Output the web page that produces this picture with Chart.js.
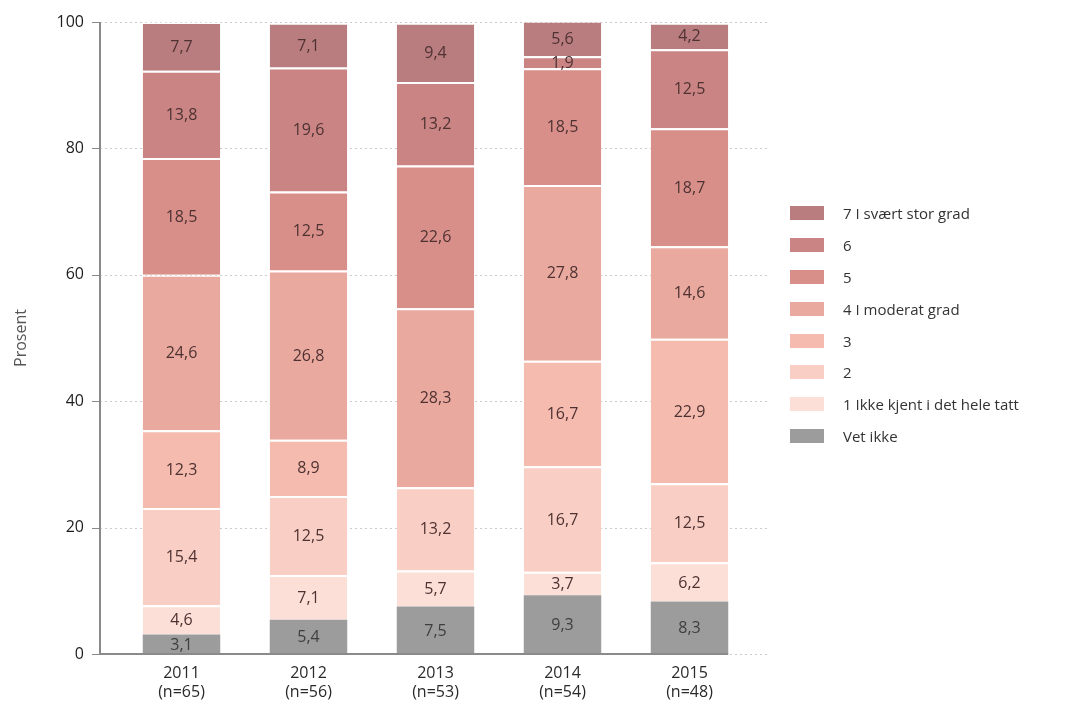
<!DOCTYPE html>
<html>
<head>
<meta charset="utf-8">
<script src="https://cdn.jsdelivr.net/npm/chart.js@4/dist/chart.umd.min.js"></script>
<style>
  body { margin: 0; background: #fff; }
  #wrap { position: relative; width: 1068px; height: 709px; }
  #legend { position: absolute; left: 790px; top: 197px; font-family: "Open Sans", sans-serif; font-size: 15px; color: #333; }
  #legend div { height: 31.9px; display: flex; align-items: center; }
  #legend span.box { display: inline-block; width: 34px; height: 14px; margin-right: 19px; }
</style>
</head>
<body>
<div id="wrap">
  <canvas id="chart" width="1068" height="709"></canvas>
  <div id="legend"></div>
</div>
<script>
// years with sample sizes
const years = ["2011", "2012", "2013", "2014", "2015"];
const sampleSizes = [65, 56, 53, 54, 48];

// answer categories, bottom to top of each stack
const categories = ["Vet ikke", "1 Ikke kjent i det hele tatt", "2", "3", "4 I moderat grad", "5", "6", "7 I svært stor grad"];
const colors = ["#9c9c9c", "#fcdfd7", "#f9cec4", "#f5bbaf", "#eaa99f", "#d98f89", "#c98483", "#b97d7f"];

// percent per category, one value per year
const vetIkke = [3.1, 5.4, 7.5, 9.3, 8.3];
const grad1 = [4.6, 7.1, 5.7, 3.7, 6.2];
const grad2 = [15.4, 12.5, 13.2, 16.7, 12.5];
const grad3 = [12.3, 8.9, 0, 16.7, 22.9];
const grad4 = [24.6, 26.8, 28.3, 27.8, 14.6];
const grad5 = [18.5, 12.5, 22.6, 18.5, 18.7];
const grad6 = [13.8, 19.6, 13.2, 1.9, 12.5];
const grad7 = [7.7, 7.1, 9.4, 5.6, 4.2];

const yTicks = [0, 20, 40, 60, 80, 100];

const series = [vetIkke, grad1, grad2, grad3, grad4, grad5, grad6, grad7];
const labels = years.map((y, i) => [y, "(n=" + sampleSizes[i] + ")"]);

const fmt = v => v.toFixed(1).replace(".", ",");

// dotted grid, axis line and baseline drawn behind the bars
const axisPlugin = {
  id: "axisLines",
  beforeDatasetsDraw(chart) {
    const { ctx, chartArea, scales } = chart;
    const axisX = chartArea.left - 18;
    const gridEnd = chartArea.right + 17;
    ctx.save();
    ctx.strokeStyle = "#cccccc";
    ctx.lineWidth = 1;
    ctx.setLineDash([2, 3]);
    yTicks.forEach(t => {
      const y = Math.round(scales.y.getPixelForValue(t)) + 0.5;
      ctx.beginPath();
      ctx.moveTo(axisX, y);
      ctx.lineTo(gridEnd, y);
      ctx.stroke();
    });
    ctx.setLineDash([]);
    ctx.strokeStyle = "#8a8a8a";
    yTicks.forEach(t => {
      const y = Math.round(scales.y.getPixelForValue(t)) + 0.5;
      ctx.beginPath();
      ctx.moveTo(axisX - 8, y);
      ctx.lineTo(axisX, y);
      ctx.stroke();
    });
    ctx.lineWidth = 2;
    ctx.beginPath();
    ctx.moveTo(axisX, scales.y.getPixelForValue(100));
    ctx.lineTo(axisX, scales.y.getPixelForValue(0) + 1);
    ctx.stroke();
    ctx.restore();
  },
  afterDatasetsDraw(chart) {
    const { ctx, chartArea, scales } = chart;
    const last = chart.getDatasetMeta(0).data[years.length - 1];
    ctx.save();
    ctx.strokeStyle = "#8a8a8a";
    ctx.lineWidth = 2;
    ctx.beginPath();
    const y = scales.y.getPixelForValue(0);
    ctx.moveTo(chartArea.left - 19, y);
    ctx.lineTo(last.x + last.width / 2, y);
    ctx.stroke();
    ctx.restore();
  }
};

// value text centred in each segment
const valuePlugin = {
  id: "values",
  afterDatasetsDraw(chart) {
    const { ctx } = chart;
    ctx.save();
    ctx.font = "16px 'Open Sans', sans-serif";
    ctx.textAlign = "center";
    ctx.textBaseline = "middle";
    chart.data.datasets.forEach((ds, di) => {
      chart.getDatasetMeta(di).data.forEach((bar, i) => {
        const v = ds.data[i];
        if (!v) return;
        ctx.fillStyle = di === 0 ? "#3e3e3e" : "#4e3232";
        ctx.fillText(fmt(v), bar.x, (bar.y + bar.base) / 2 + 1);
      });
    });
    ctx.restore();
  }
};

const chart = new Chart(document.getElementById("chart"), {
  type: "bar",
  data: {
    labels: labels,
    datasets: series.map((d, i) => ({
      label: categories[i],
      data: d,
      backgroundColor: colors[i],
      borderColor: "rgba(255,255,255,0.35)",
      borderWidth: i === 0 ? 0 : { top: 2, bottom: 0, left: 0, right: 0 },
      borderSkipped: false,
      categoryPercentage: 1,
      barPercentage: 0.61
    }))
  },
  options: {
    responsive: false,
    animation: false,
    layout: { padding: { top: 22, right: 315, bottom: 0, left: 0 } },
    plugins: { legend: { display: false }, tooltip: { enabled: false } },
    scales: {
      x: {
        stacked: true,
        grid: { display: false },
        border: { display: false },
        ticks: { color: "#2a2a2a", font: { family: "Open Sans", size: 16 }, padding: 2, maxRotation: 0 },
        afterFit: s => { s.height = 55; }
      },
      y: {
        stacked: true,
        min: 0,
        max: 100,
        grid: { display: false },
        border: { display: false },
        ticks: { stepSize: 20, color: "#1e1e1e", font: { family: "Open Sans", size: 16 }, padding: 26 },
        title: { display: true, text: "Prosent", color: "#555", font: { family: "Open Sans", size: 16 }, padding: { top: 12, bottom: 0 } },
        afterFit: s => { s.width = 118; s.paddingTop = 0; s.paddingBottom = 0; }
      }
    }
  },
  plugins: [axisPlugin, valuePlugin]
});

// legend, highest category first
const legend = document.getElementById("legend");
for (let i = categories.length - 1; i >= 0; i--) {
  const row = document.createElement("div");
  row.innerHTML = '<span class="box" style="background:' + colors[i] + '"></span>' + categories[i];
  legend.appendChild(row);
}
</script>
</body>
</html>
